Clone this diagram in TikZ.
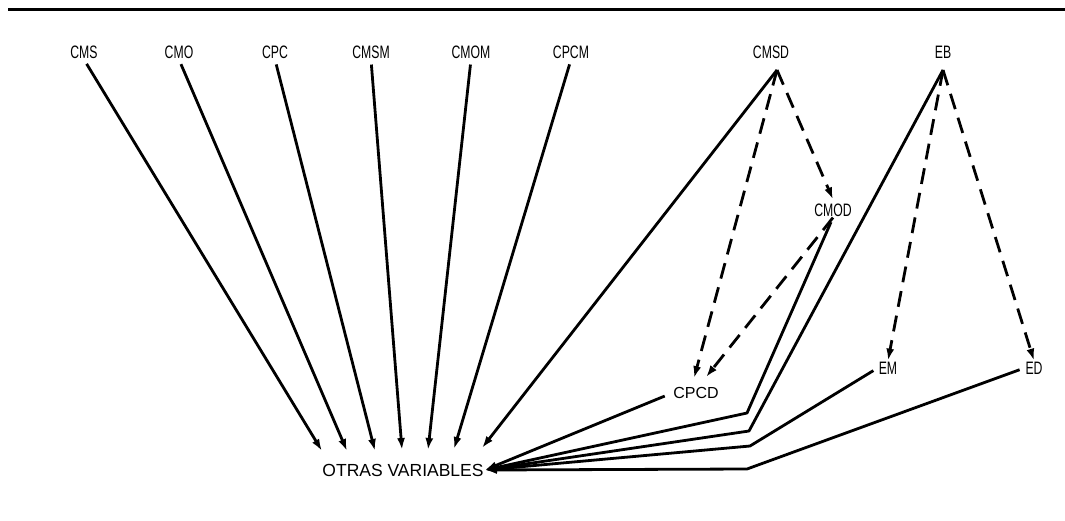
\documentclass[tikz,border=0pt]{standalone}
\usepackage{fontspec}
\setmainfont{Liberation Sans}
\newfontfamily\plotfont{Liberation Sans}[FakeStretch=0.68]
\usetikzlibrary{arrows.meta,calc}
\begin{document}
\begin{tikzpicture}[x=1pt,y=-1pt,
  lbl/.style={font=\plotfont\fontsize{18}{18}\selectfont, inner sep=1pt},
  wide/.style={font=\fontsize{16}{16}\selectfont, inner sep=1pt},
  conn/.style={line width=2.8pt, line join=round},
  arr/.style={conn, -{Latex[length=12pt,width=8pt]}},
  darr/.style={arr, dash pattern=on 16pt off 9pt},
  from/.style={shorten <=5pt},
]
\useasboundingbox (0,0) rectangle (1065,520);
\draw[line width=3pt] (8,9) -- (1065,9);

% top labels
\node[lbl] (cms)  at (84,52)  {CMS};
\node[lbl] (cmo)  at (179,52) {CMO};
\node[lbl] (cpc)  at (275,52) {CPC};
\node[lbl] (cmsm) at (371,52) {CMSM};
\node[lbl] (cmom) at (471,52) {CMOM};
\node[lbl] (cpcm) at (571,52) {CPCM};
\node[lbl] (cmsd) at (771,52) {CMSD};
\node[lbl] (eb)   at (943,52) {EB};
% middle labels
\node[lbl] (cmod) at (833,210) {CMOD};
\node[wide] (cpcd) at (696,393) {CPCD};
\node[lbl] (em)   at (888,368) {EM};
\node[lbl] (ed)   at (1034,368) {ED};
\node[font=\fontsize{17.5}{17.5}\selectfont, inner sep=1pt] (otras) at (403,470) {OTRAS VARIABLES};

% apexes and bends
\coordinate (cmsdA) at (777,70);
\coordinate (ebA) at (943,70);
\coordinate (b1) at (747,413);
\coordinate (b2) at (749,431);
\coordinate (b3) at (750,446);
\coordinate (b4) at (747,469);
% arrow tips on OTRAS VARIABLES
\coordinate (t1) at (322,451);
\coordinate (t2) at (347,451);
\coordinate (t3) at (375,451);
\coordinate (t4) at (402,450);
\coordinate (t5) at (428,450);
\coordinate (t6) at (454,449);
\coordinate (t7) at (482,448);

% solid arrows from the top row
\draw[arr,from] (cms.south)  -- (t1);
\draw[arr,from] (cmo.south)  -- (t2);
\draw[arr,from] (cpc.south)  -- (t3);
\draw[arr,from] (cmsm.south) -- (t4);
\draw[arr,from] (cmom.south) -- (t5);
\draw[arr,from] (cpcm.south) -- (t6);
\draw[arr] (cmsdA) -- (t7);

% right group converging on OTRAS VARIABLES
\draw[arr,shorten <=8pt] (cpcd.west) -- (otras.east);
\draw[arr,from] (cmod.south) -- (b1) -- (otras.east);
\draw[arr] (ebA) -- (b2) -- (otras.east);
\draw[arr,from] (em.west) -- (b3) -- (otras.east);
\draw[arr,from] (ed.west) -- (b4) -- (otras.east);

% dashed arrows
\draw[darr] (cmsdA) -- ([yshift=3pt]cmod.north);
\draw[darr] (cmsdA) -- ([xshift=-2pt,yshift=8pt]cpcd.north);
\draw[darr] (cmod.south) -- ([xshift=10pt,yshift=9pt]cpcd.north);
\draw[darr] (ebA) -- (em.north);
\draw[darr] (ebA) -- (ed.north);
\end{tikzpicture}
\end{document}
